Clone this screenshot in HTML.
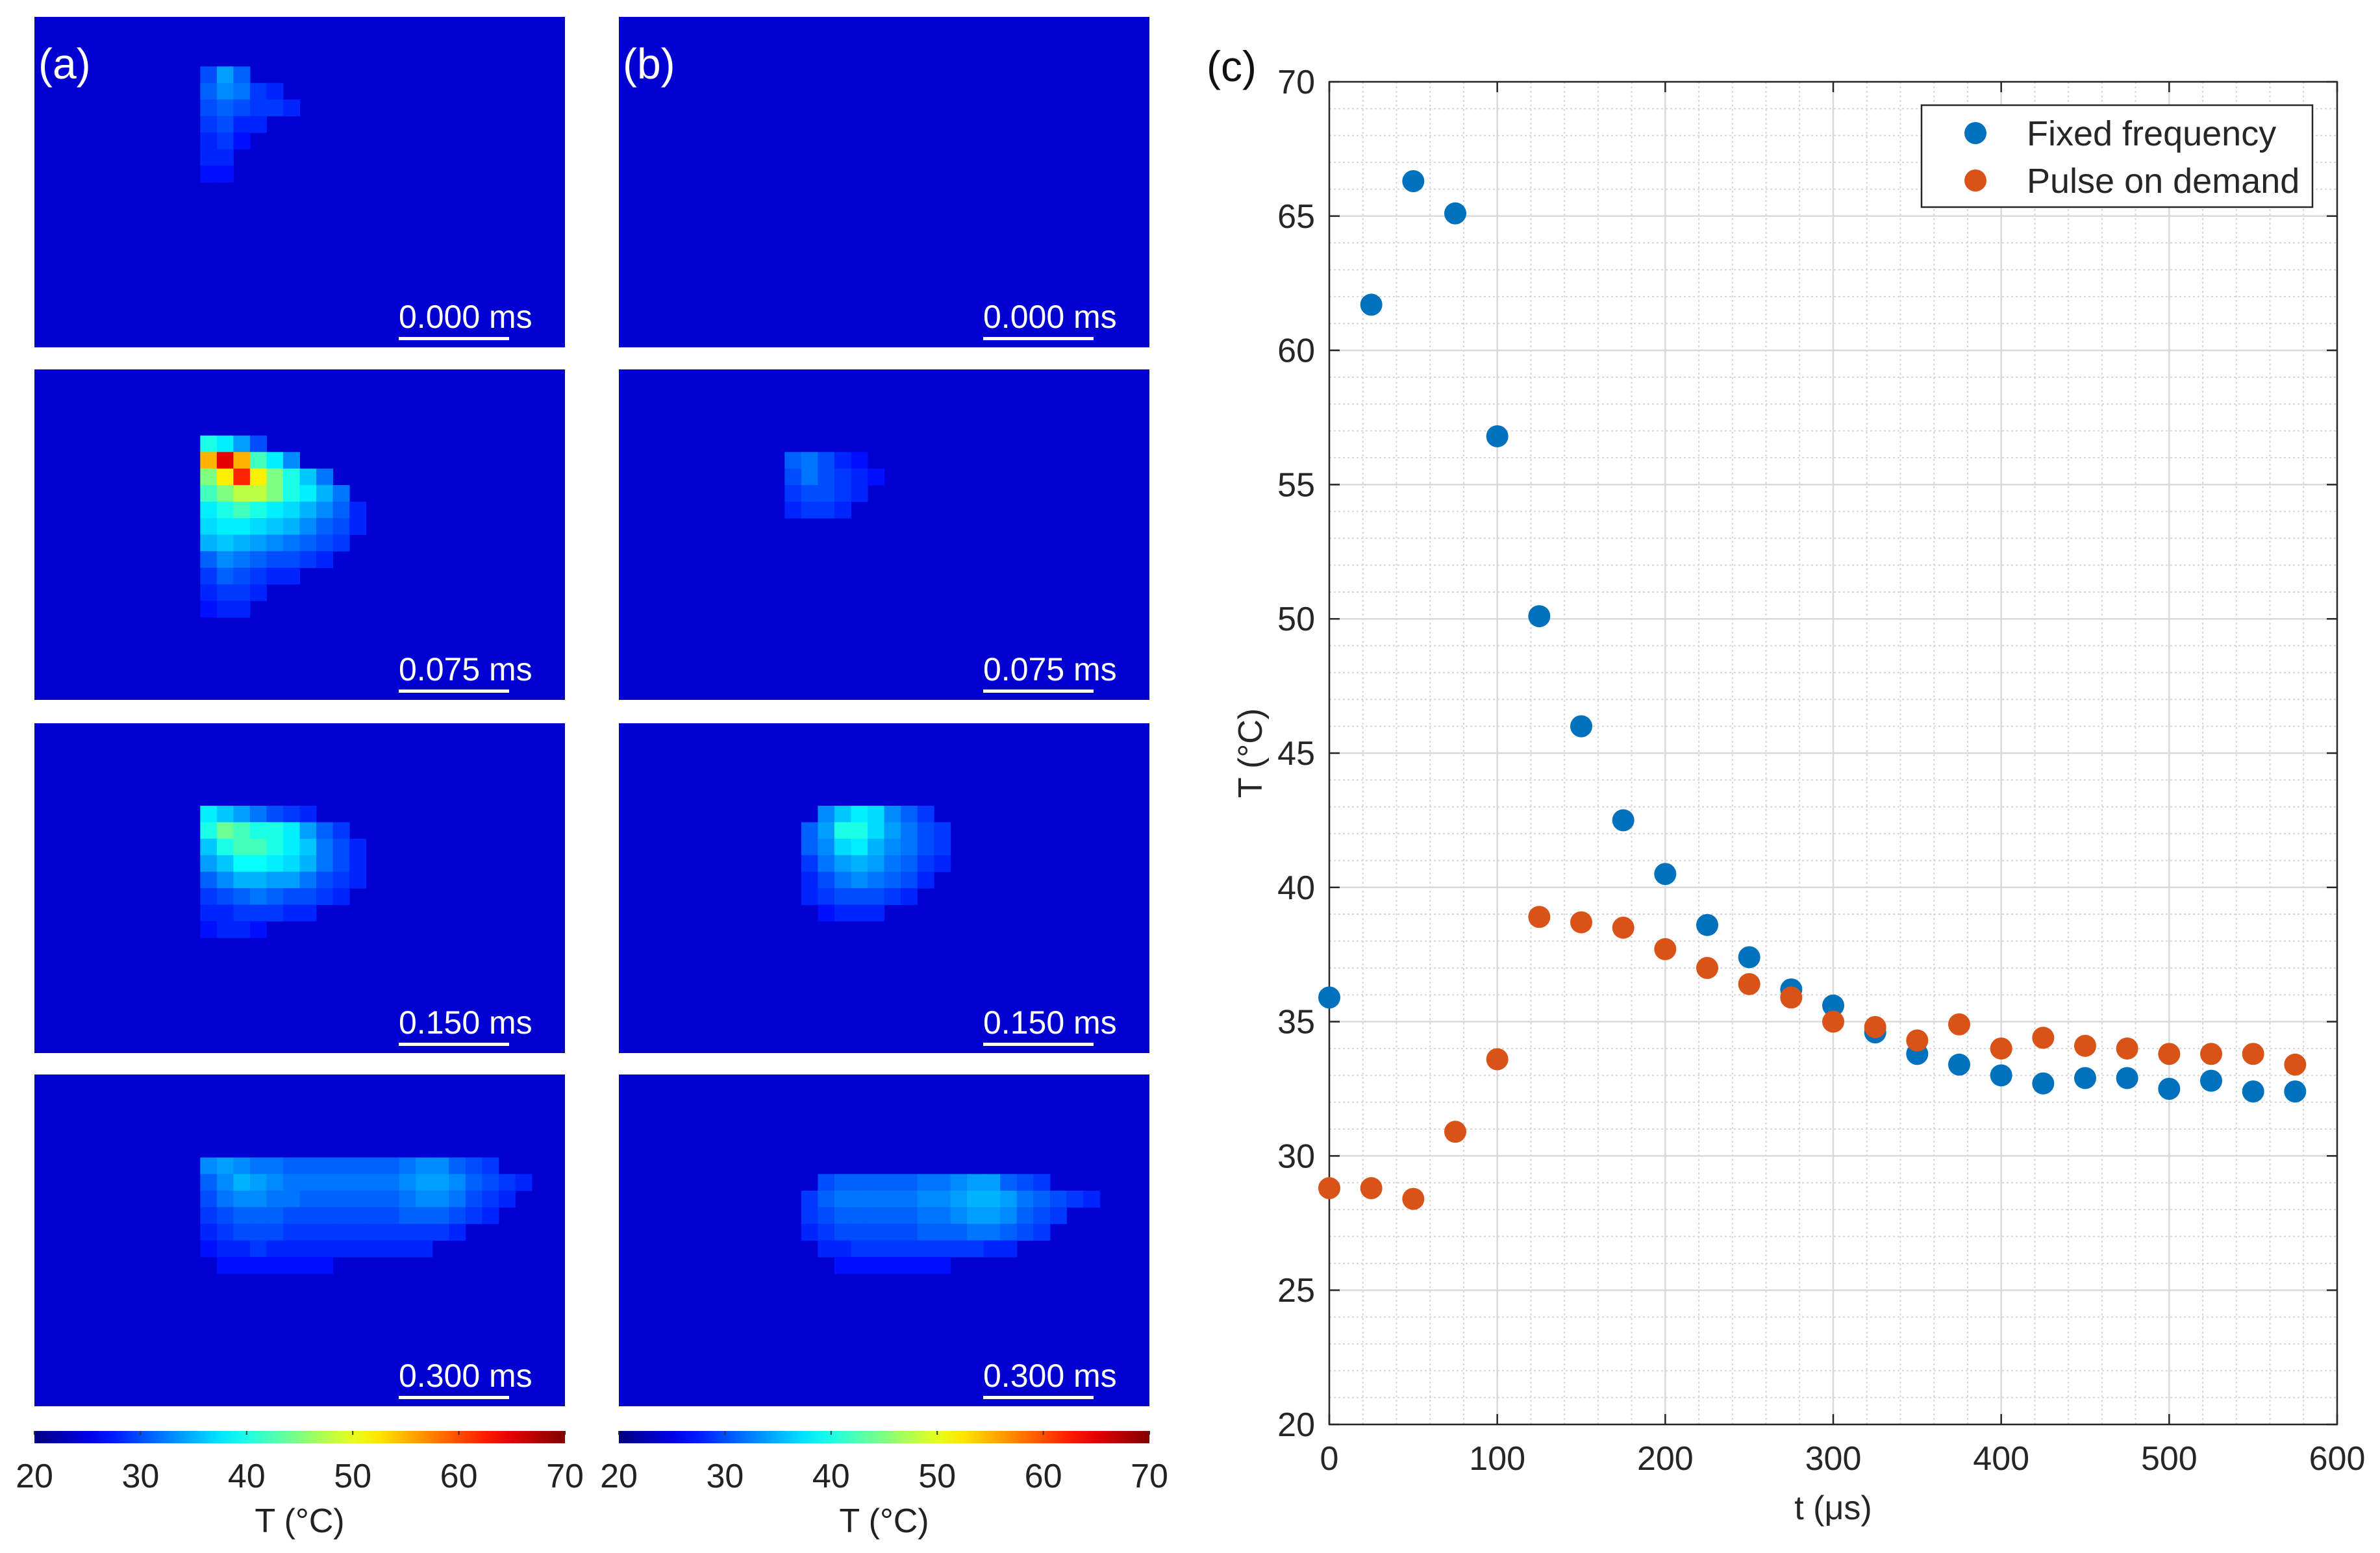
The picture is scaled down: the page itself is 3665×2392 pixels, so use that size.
<!DOCTYPE html>
<html><head><meta charset="utf-8"><style>
html,body{margin:0;padding:0;background:#fff;}
svg{display:block;font-family:"Liberation Sans","DejaVu Sans",sans-serif;}
</style></head><body>
<svg id="fig" width="3665" height="2392" viewBox="0 0 3665 2392" xmlns="http://www.w3.org/2000/svg">
<g id="heat"></g>
<g id="plotc"></g>
</svg>
<script>
// ===== Chart (c) data =====
const tValues = [0,25,50,75,100,125,150,175,200,225,250,275,300,325,350,375,400,425,450,475,500,525,550,575];
const fixedFreq = [35.9,61.7,66.3,65.1,56.8,50.1,46.0,42.5,40.5,38.6,37.4,36.2,35.6,34.6,33.8,33.4,33.0,32.7,32.9,32.9,32.5,32.8,32.4,32.4];
const pulseOnDemand = [28.8,28.8,28.4,30.9,33.6,38.9,38.7,38.5,37.7,37.0,36.4,35.9,35.0,34.8,34.3,34.9,34.0,34.4,34.1,34.0,33.8,33.8,33.8,33.4];
const xTicks = [0,100,200,300,400,500,600];
const yTicks = [20,25,30,35,40,45,50,55,60,65,70];
const colorbarTicks = [20,30,40,50,60,70];
const frameTimes = ["0.000 ms","0.075 ms","0.150 ms","0.300 ms"];
// heatmap hotspots: [row, startCol, temps...]
const bgTemp = 24;
const heatA0 = [[3,10,30,34,31],[4,10,31,33,32,29,28],[5,10,30,31,30,29,29,28],[6,10,29,30,28,28],[7,10,28,29,27],[8,10,28,28],[9,10,27,27]];
const heatA1 = [[4,10,40,38,34,30],[5,10,55,65,55,42,38,33],[6,10,45,52,62,52,45,40,36,32],[7,10,42,45,48,48,45,40,38,35,32],[8,10,38,40,42,40,38,37,35,33,31,28],[9,10,37,38,38,37,36,35,33,31,30,28],[10,10,35,36,35,34,33,32,31,30,29],[11,10,31,33,32,31,30,30,29,28],[12,10,29,31,30,29,28,28],[13,10,28,29,29,28],[14,10,27,28,28]];
const heatA2 = [[5,10,38,36,34,32,30,29,28],[6,10,40,44,42,40,40,38,34,31,29],[7,10,36,40,42,42,40,38,36,32,30,28],[8,10,34,36,39,39,38,37,35,32,30,28],[9,10,31,33,35,35,34,34,32,30,29,28],[10,10,29,30,31,32,31,30,30,29,28],[11,10,28,28,29,29,29,28,28],[12,10,27,28,28,27]];
const heatA3 = [[5,10,33,34,33,32,32,31,31,31,31,31,31,31,32,33,33,31,30,29],[6,10,31,33,35,34,33,32,32,32,32,32,32,32,33,34,34,33,31,30,29,28],[7,10,30,32,33,33,32,32,31,31,31,31,31,31,32,33,33,32,30,29,28],[8,10,29,30,31,31,31,30,30,30,30,30,30,30,31,31,31,30,29,28],[9,10,28,29,30,30,30,29,29,29,29,29,29,29,29,29,29,28],[10,10,27,28,28,29,28,28,28,28,28,28,28,28,28,28],[11,11,27,27,27,27,27,27,27]];
const heatB0 = [];
const heatB1 = [[5,10,31,32,30,28,27],[6,10,30,32,30,29,28,27],[7,10,29,30,30,29,28],[8,10,28,29,29,28]];
const heatB2 = [[5,12,33,36,38,37,33,31,29],[6,11,31,34,40,40,37,34,32,30,29],[7,11,31,33,37,38,35,33,32,30,29],[8,11,29,32,34,35,34,32,31,29,28],[9,11,28,30,32,33,32,31,30,28],[10,11,28,29,30,30,30,29,28],[11,12,27,28,28,28]];
const heatB3 = [[6,12,30,31,31,31,31,31,32,32,33,34,34,31,30,29],[7,11,29,31,32,32,32,32,32,33,33,34,35,35,34,32,31,30,29,28],[8,11,29,30,31,31,31,31,31,32,32,33,34,34,33,31,30,29],[9,11,28,29,30,30,30,30,30,31,31,31,32,32,31,30,29],[10,12,28,28,29,29,29,29,29,29,29,29,28,28],[11,13,27,27,27,27,27,27,27]];
const panelsA = [heatA0,heatA1,heatA2,heatA3];
const panelsB = [heatB0,heatB1,heatB2,heatB3];

const NS="http://www.w3.org/2000/svg";
function mk(tag,attrs,parent){const e=document.createElementNS(NS,tag);for(const k in attrs)e.setAttribute(k,attrs[k]);parent.appendChild(e);return e;}
function jet(temp){let v=(temp-20)/50;v=Math.max(0,Math.min(1,v));const c=x=>Math.round(255*Math.max(0,Math.min(1,1.5-Math.abs(4*v-x))));return `rgb(${c(3)},${c(2)},${c(1)})`;}

// ===== heatmaps =====
const heat=document.getElementById('heat');
const colX=[53,953], panW=817;
const rowY=[[26,535],[569,1078],[1114,1622],[1655,2166]];
const NC=32, NR=20;
[panelsA,panelsB].forEach((panels,pi)=>{
  const px=colX[pi];
  panels.forEach((spots,fi)=>{
    const [y0,y1]=rowY[fi];
    const g=mk('g',{},heat);
    
    
    mk('rect',{x:px,y:y0,width:panW,height:y1-y0,fill:jet(bgTemp)},g);
    const cw=panW/NC, ch=(y1-y0)/NR;
    spots.forEach(s=>{
      const r=s[0],c0=s[1];
      for(let i=2;i<s.length;i++){
        const cell=mk('rect',{x:px+(c0+i-2)*cw,y:y0+r*ch,width:cw+0.5,height:ch+0.5,fill:jet(s[i])},g);
        
        
      }
    });
    const lab=mk('text',{x:px+561,y:y1-30,fill:'#fff','font-size':50},g);
    lab.textContent=frameTimes[fi];
    
    
    const bar=mk('rect',{x:px+561,y:y1-16,width:170,height:5,fill:'#fff'},g);
    
    
    if(fi===0){
      const pl=mk('text',{x:px+6,y:y0+95,fill:'#fff','font-size':66},g);
      pl.textContent=pi===0?'(a)':'(b)';
      
      
    }
  });
  // colorbar
  const cb=mk('g',{},heat);
  
  
  const gid='jetgrad'+pi;
  const lg=mk('linearGradient',{id:gid,x1:0,x2:1,y1:0,y2:0},cb);
  for(let i=0;i<=20;i++){mk('stop',{offset:i/20,'stop-color':jet(20+50*i/20)},lg);}
  mk('rect',{x:px,y:2204,width:panW,height:19,fill:`url(#${gid})`},cb);
  colorbarTicks.forEach(tv=>{
    const x=px+(tv-20)/50*panW;
    mk('line',{x1:x,x2:x,y1:2204,y2:2210,stroke:'#333','stroke-width':2},cb);
    const t=mk('text',{x:x,y:2291,'text-anchor':'middle','font-size':52,fill:'#222'},cb);
    t.textContent=tv;
    
    
  });
  const ct=mk('text',{x:px+panW/2,y:2360,'text-anchor':'middle','font-size':52,fill:'#222'},cb);
  ct.textContent='T (°C)';
  
  
});

// ===== plot (c) =====
const P=document.getElementById('plotc');
const L=2047,R=3599,T=126,B=2194;
const xs=v=>L+(v-0)/600*(R-L);
const ys=v=>B-(v-20)/50*(B-T);
mk('rect',{x:L,y:T,width:R-L,height:B-T,fill:'#fff'},P);
const grid=mk('g',{},P);


for(let v=0;v<=600;v+=20){if(v%100===0)continue;mk('line',{x1:xs(v),x2:xs(v),y1:T,y2:B,stroke:'#d6d6d6','stroke-width':2,'stroke-dasharray':'3,4'},grid);}
for(let v=20;v<=70;v+=1){if(v%5===0)continue;mk('line',{x1:L,x2:R,y1:ys(v),y2:ys(v),stroke:'#d6d6d6','stroke-width':2,'stroke-dasharray':'3,4'},grid);}
xTicks.forEach(v=>mk('line',{x1:xs(v),x2:xs(v),y1:T,y2:B,stroke:'#d9d9d9','stroke-width':2.5},grid));
yTicks.forEach(v=>mk('line',{x1:L,x2:R,y1:ys(v),y2:ys(v),stroke:'#d9d9d9','stroke-width':2.5},grid));
mk('rect',{x:L,y:T,width:R-L,height:B-T,fill:'none',stroke:'#262626','stroke-width':2.5},P);
const ax=mk('g',{},P);


xTicks.forEach(v=>{
  mk('line',{x1:xs(v),x2:xs(v),y1:B,y2:B-16,stroke:'#262626','stroke-width':2.5},ax);
  mk('line',{x1:xs(v),x2:xs(v),y1:T,y2:T+16,stroke:'#262626','stroke-width':2.5},ax);
  const t=mk('text',{x:xs(v),y:B+70,'text-anchor':'middle','font-size':52,fill:'#262626'},ax);
  t.textContent=v;
  
  
});
yTicks.forEach(v=>{
  mk('line',{x1:L,x2:L+16,y1:ys(v),y2:ys(v),stroke:'#262626','stroke-width':2.5},ax);
  mk('line',{x1:R,x2:R-16,y1:ys(v),y2:ys(v),stroke:'#262626','stroke-width':2.5},ax);
  const t=mk('text',{x:L-22,y:ys(v)+18,'text-anchor':'end','font-size':52,fill:'#262626'},ax);
  t.textContent=v;
  
  
});
const xt=mk('text',{x:(L+R)/2,y:2340,'text-anchor':'middle','font-size':52,fill:'#262626'},P);
xt.textContent='t (μs)';


const yt=mk('text',{x:0,y:0,'text-anchor':'middle','font-size':52,fill:'#262626',transform:`translate(1943,${(T+B)/2}) rotate(-90)`},P);
yt.textContent='T (°C)';


const cl=mk('text',{x:1858,y:125,'font-size':66,fill:'#111'},P);
cl.textContent='(c)';



const s1=mk('g',{},P);


tValues.forEach((t,i)=>{const c=mk('circle',{cx:xs(t),cy:ys(fixedFreq[i]),r:17,fill:'#0072BD'},s1);

});
const s2=mk('g',{},P);


tValues.forEach((t,i)=>{const c=mk('circle',{cx:xs(t),cy:ys(pulseOnDemand[i]),r:17,fill:'#D95319'},s2);

});

const lgd=mk('g',{},P);


mk('rect',{x:2959,y:162,width:602,height:157,fill:'#fff',stroke:'#262626','stroke-width':2.5},lgd);
mk('circle',{cx:3042,cy:205,r:17,fill:'#0072BD'},lgd);
mk('circle',{cx:3042,cy:278,r:17,fill:'#D95319'},lgd);
const l1=mk('text',{x:3121,y:224,'font-size':54,fill:'#262626'},lgd);
l1.textContent='Fixed frequency';


const l2=mk('text',{x:3121,y:297,'font-size':54,fill:'#262626'},lgd);
l2.textContent='Pulse on demand';


</script>
</body></html>
